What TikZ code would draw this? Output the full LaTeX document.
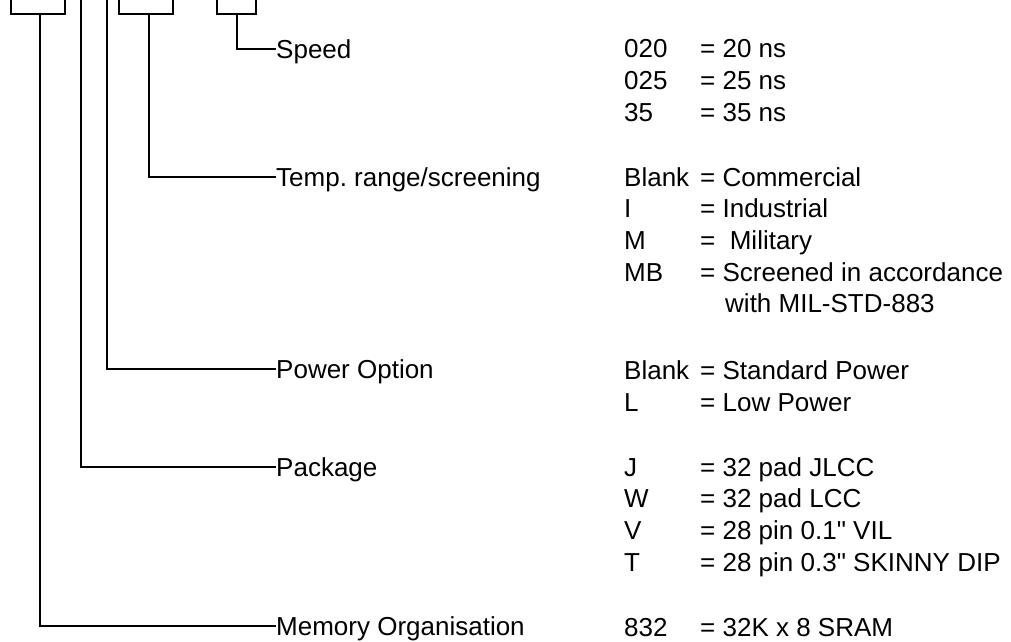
\documentclass[tikz,border=0pt]{standalone}
\usepackage{fontspec}
\newfontfamily\lib{Liberation Sans}
\frenchspacing
\begin{document}
\begin{tikzpicture}[x=1pt,y=-1pt,
  wire/.style={line width=1.5pt, line join=miter},
  txt/.style={font=\lib\fontsize{26}{30}\selectfont, inner sep=0pt, anchor=west, text height=18.6pt, text depth=0pt}]
\useasboundingbox (0,0) rectangle (1011,641);
% labels
\node[txt] (speed) at (276,49) {Speed};
\node[txt] (temp) at (276,177) {Temp. range/screening};
\node[txt] (power) at (276,369) {Power Option};
\node[txt] (package) at (276,467) {Package};
\node[txt] (memory) at (276,626) {Memory Organisation};
% codes
\node[txt] (c1) at (624,48) {020};
\node[txt] (c2) at (624,80) {025};
\node[txt] (c3) at (624,112) {35};
\node[txt] (c4) at (624,177) {Blank};
\node[txt] (c5) at (624,208) {I};
\node[txt] (c6) at (624,240) {M};
\node[txt] (c7) at (624,272) {MB};
\node[txt] (c8) at (624,370) {Blank};
\node[txt] (c9) at (624,402) {L};
\node[txt] (c10) at (624,467) {J};
\node[txt] (c11) at (624,498) {W};
\node[txt] (c12) at (624,530) {V};
\node[txt] (c13) at (624,562) {T};
\node[txt] (c14) at (624,627) {832};
% descriptions
\node[txt] (d1) at (700,48) {= 20 ns};
\node[txt] (d2) at (700,80) {= 25 ns};
\node[txt] (d3) at (700,112) {= 35 ns};
\node[txt] (d4) at (700,177) {= Commercial};
\node[txt] (d5) at (700,208) {= Industrial};
\node[txt] (d6) at (700,240) {= \ Military};
\node[txt] (d7) at (700,272) {= Screened in accordance};
\node[txt] (d7b) at (725,303) {with MIL-STD-883};
\node[txt] (d8) at (700,370) {= Standard Power};
\node[txt] (d9) at (700,402) {= Low Power};
\node[txt] (d10) at (700,467) {= 32 pad JLCC};
\node[txt] (d11) at (700,498) {= 32 pad LCC};
\node[txt] (d12) at (700,530) {= 28 pin 0.1" VIL};
\node[txt] (d13) at (700,562) {= 28 pin 0.3" SKINNY DIP};
\node[txt] (d14) at (700,627) {= 32K x 8 SRAM};
% brackets and leads
\coordinate (a1) at (11,0); \coordinate (a2) at (65,0); \coordinate (sa) at (40,14);
\draw[wire] (a1) -- (11,14) -- (65,14) -- (a2);
\draw[wire] (sa) |- (memory.west);
\coordinate (t2) at (81,0);
\draw[wire] (t2) |- (package.west);
\coordinate (t3) at (107,0);
\draw[wire] (t3) |- (power.west);
\coordinate (b1) at (119,0); \coordinate (b2) at (173,0); \coordinate (sb) at (149,14);
\draw[wire] (b1) -- (119,14) -- (173,14) -- (b2);
\draw[wire] (sb) |- (temp.west);
\coordinate (e1) at (217,0); \coordinate (e2) at (256,0); \coordinate (se) at (237,14);
\draw[wire] (e1) -- (217,14) -- (256,14) -- (e2);
\draw[wire] (se) |- (speed.west);
\end{tikzpicture}
\end{document}
